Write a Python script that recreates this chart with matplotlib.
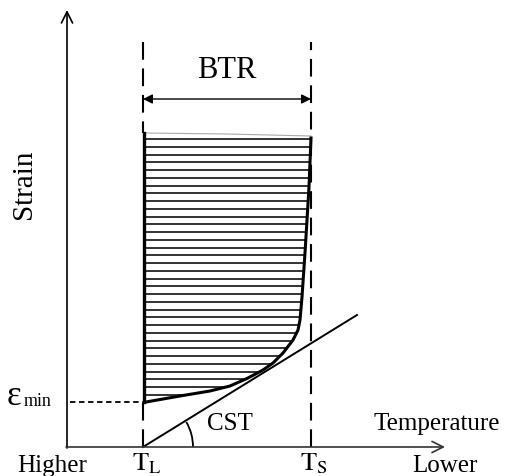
import numpy as np
import matplotlib
matplotlib.use('Agg')
import matplotlib.pyplot as plt
import matplotlib.patches as patches

plt.rcParams['font.family'] = ['Liberation Serif', 'DejaVu Serif']
plt.rcParams['mathtext.fontset'] = 'stix'

# schematic positions (arbitrary units, origin at the axes corner)
T_L = 76
T_S = 244
eps_min = 45
btr_level = 348

# right / bottom boundary of the BTR region, from top right down to eps_min
boundary_x = [244, 242, 238, 235, 233, 231, 226, 216, 206, 196, 181, 163, 143, 113, 79]
boundary_y = [309, 260, 194, 150, 127, 117, 107, 94, 84, 77, 69, 61, 56, 51, 45]
left_x = 78
top_y = 314

# critical strain rate line
cst_x = [76, 290]
cst_y = [0, 132]

fig = plt.figure(figsize=(5.08, 4.76), dpi=100)
ax = fig.add_axes([0, 0, 1, 1])
ax.set_xlim(-67, 441)
ax.set_ylim(-29, 447)
ax.axis('off')

# axes with arrows
ax.annotate('', xy=(0, 437), xytext=(0, -1),
            arrowprops=dict(arrowstyle='->', lw=1.2, color='black', mutation_scale=20,
                            shrinkA=0, shrinkB=0))
ax.annotate('', xy=(378, 0), xytext=(-1, 0),
            arrowprops=dict(arrowstyle='->', lw=1.2, color='#333333', mutation_scale=20,
                            shrinkA=0, shrinkB=0))

# dashed verticals at T_L (hidden behind the region edge) and T_S
ax.plot([T_L, T_L], [0, eps_min], color='black', lw=1.5, dashes=(8.5, 4.2))
ax.plot([T_L, T_L], [405, top_y], color='black', lw=1.5, dashes=(8.5, 4.2))
ax.plot([T_S, T_S], [0, 405], color='black', lw=1.5, dashes=(8.5, 4.2))

# eps_min dashed level
ax.plot([3, T_L], [eps_min, eps_min], color='black', lw=1.3, dashes=(3, 2))

# BTR region polygon
poly_x = [left_x, boundary_x[0]] + boundary_x + [left_x]
poly_y = [top_y, 311] + boundary_y + [eps_min]
region = patches.Polygon(np.column_stack([poly_x, poly_y]), closed=True,
                         facecolor='none', edgecolor='none')
ax.add_patch(region)

# hatching lines clipped to the region
levels = np.arange(308, eps_min - 5, -7.75)
hl = ax.hlines(levels, left_x - 2, 250, colors='#1a1a1a', lw=1.25)
hl.set_clip_path(region)

# outline
ax.plot([left_x, 160, 244], [top_y, 313, 311], color='#aaaaaa', lw=0.8)
ax.plot([left_x - 1, left_x - 1], [top_y, eps_min], color='black', lw=2.4)
ax.plot(boundary_x, boundary_y, color='black', lw=2.2, solid_joinstyle='round')

# CST line and angle arc
ax.plot(cst_x, cst_y, color='black', lw=1.4)
ax.add_patch(patches.Arc((T_L, 0), 100, 100, theta1=0, theta2=30, color='black', lw=1.3))

# BTR double arrow
ax.annotate('', xy=(T_L, btr_level), xytext=(T_S, btr_level),
            arrowprops=dict(arrowstyle='<|-|>', lw=1.0, color='black', mutation_scale=14,
                            shrinkA=0, shrinkB=0))

# texts
ax.text((T_L + T_S) / 2, 377, 'BTR', fontsize=22, ha='center', va='center')
ax.text(-43, 263, 'Strain', fontsize=21, ha='center', va='center', rotation=90)
ax.text(163, 17, 'CST', fontsize=18, ha='center', va='baseline')
ax.text(370, 17, 'Temperature', fontsize=18, ha='center', va='baseline')
ax.text(-15, -25, 'Higher', fontsize=18, ha='center', va='baseline')
ax.text(378, -25, 'Lower', fontsize=18, ha='center', va='baseline')
ax.text(T_L - 11, -23, r'$\mathrm{T}_\mathrm{L}$', fontsize=19, ha='left', va='baseline')
ax.text(T_S - 11, -23, r'$\mathrm{T}_\mathrm{S}$', fontsize=19, ha='left', va='baseline')
ax.text(-60, eps_min - 3, 'ε', fontsize=25, ha='left', va='baseline')
ax.text(-43, eps_min - 4, 'min', fontsize=13, ha='left', va='baseline')

fig.savefig('out.png', dpi=100)
